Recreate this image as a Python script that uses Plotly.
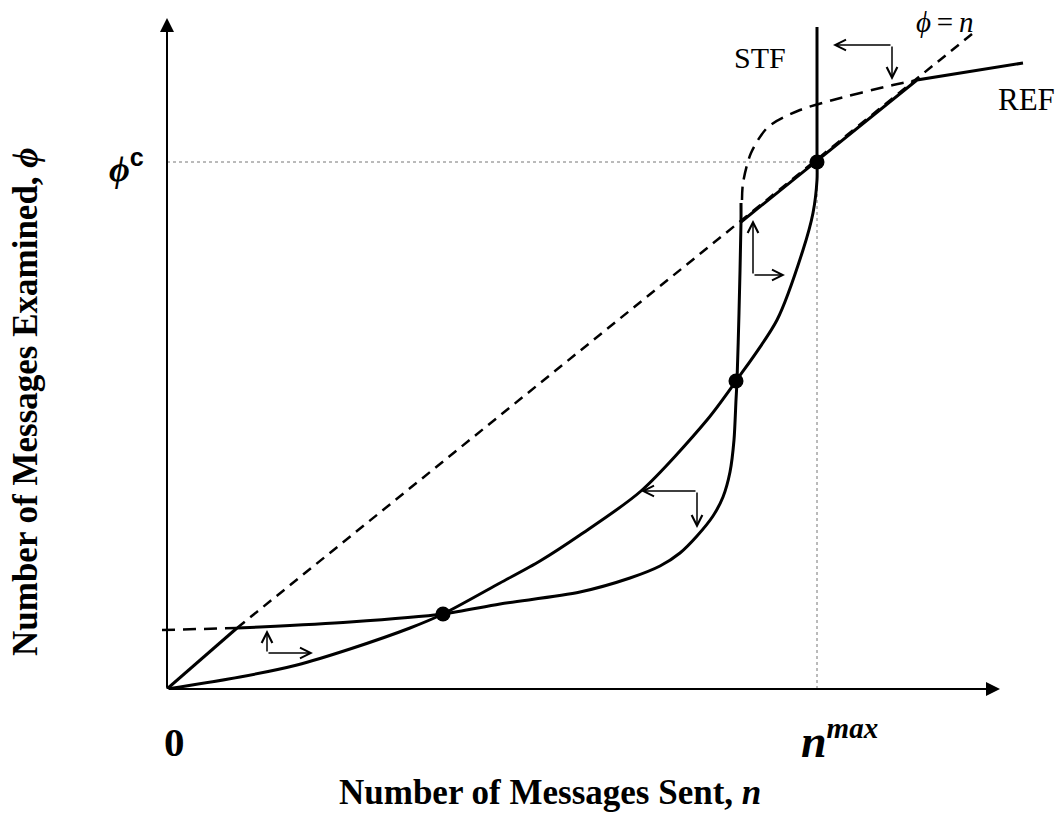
import plotly.graph_objects as go

# ---- data (schematic units: 1 unit ~ 1 px) ----
# STF convex curve (ends at n^max, phi^c, then vertical)
stf_x = [0, 73, 130, 183, 243, 276, 333, 373, 413, 474, 540, 569, 610, 636, 646, 650, 650]
stf_y = [0, 12, 24, 40, 61, 75, 106, 128, 154, 198, 269, 308, 369, 439, 476, 509, 527]
stf_vert_x = [650, 650]
stf_vert_y = [527, 662]

# sigmoid curve (solid part)
sig_x = [70, 93, 183, 276, 333, 413, 463, 493, 513, 530, 546, 556, 563, 567, 569, 570, 572, 574, 574]
sig_y = [61, 62, 67, 75, 85, 97, 111, 123, 136, 153, 173, 192, 217, 249, 289, 308, 376, 467, 486]
# sigmoid dashed parts
sig_lead_x = [-5, 70]
sig_lead_y = [59, 61]
sig_top_x = [575, 576, 584, 601, 633, 666, 726, 750]
sig_top_y = [489, 506, 536, 562, 579, 589, 604, 609]

# REF piecewise-linear
ref_low_x = [0, 70]
ref_low_y = [0, 61]
ref_high_x = [574, 750, 856]
ref_high_y = [467, 609, 626]

# phi = n dashed diagonal
diag_x = [70, 810]
diag_y = [61, 659]

# equilibrium points
dot_x = [276, 569, 650]
dot_y = [75, 308, 527]

n_max = 650
phi_c = 527

# L-shaped direction arrows: corner, tip1, tip2
arrows = [
    ((100, 36), (100, 59), (146, 36)),
    ((586, 414), (586, 469), (618, 414)),
    ((530, 198), (474, 198), (530, 161)),
    ((725, 644), (666, 644), (725, 609)),
]

FONT = "Liberation Serif, Times New Roman, serif"
fig = go.Figure()

def line(x, y, width=3, dash=None, color="black", shape="linear"):
    fig.add_trace(go.Scatter(x=x, y=y, mode="lines",
                             line=dict(color=color, width=width, dash=dash, shape=shape, smoothing=0.8),
                             hoverinfo="skip", showlegend=False))

# reference dotted lines
line([0, n_max], [phi_c, phi_c], width=1, dash="dot", color="#777")
line([n_max, n_max], [0, phi_c], width=1, dash="dot", color="#777")

# dashed lines
line(diag_x, diag_y, width=2.5, dash="10px,7px")
line(sig_lead_x, sig_lead_y, width=2.5, dash="13px,8px")
line(sig_top_x, sig_top_y, width=2.5, dash="13px,8px", shape="spline")

# solid curves
line(stf_x, stf_y, width=3, shape="spline")
line(stf_vert_x, stf_vert_y, width=3)
line(sig_x, sig_y, width=3, shape="spline")
line(ref_low_x, ref_low_y, width=3)
line(ref_high_x, ref_high_y, width=3)

# points
fig.add_trace(go.Scatter(x=dot_x, y=dot_y, mode="markers",
                         marker=dict(color="black", size=15),
                         hoverinfo="skip", showlegend=False))

anns = []
# axes with arrows
anns.append(dict(x=0, y=671, ax=0, ay=0, xref="x", yref="y", axref="x", ayref="y",
                 showarrow=True, arrowhead=2, arrowsize=1.4, arrowwidth=2, arrowcolor="black", text=""))
anns.append(dict(x=833, y=0, ax=0, ay=0, xref="x", yref="y", axref="x", ayref="y",
                 showarrow=True, arrowhead=2, arrowsize=1.4, arrowwidth=2, arrowcolor="black", text=""))

for corner, t1, t2 in arrows:
    for tip in (t1, t2):
        anns.append(dict(x=tip[0], y=tip[1], ax=corner[0], ay=corner[1],
                         xref="x", yref="y", axref="x", ayref="y",
                         showarrow=True, arrowhead=5, arrowsize=1.4, arrowwidth=1.5,
                         arrowcolor="black", text=""))

def text(x, y, s, size, xshift=0, yshift=0, xref="x", yref="y", angle=0):
    anns.append(dict(x=x, y=y, xref=xref, yref=yref, text=s, showarrow=False,
                     xshift=xshift, yshift=yshift, textangle=angle,
                     font=dict(family=FONT, size=size, color="black"),
                     xanchor="center", yanchor="middle"))

text(593, 632, "STF", 30)
text(859, 590, "REF", 31)
text(777, 667, "<i>ϕ</i>\u2009=\u2009<i>n</i>", 29)
text(0, phi_c, "<b><i>ϕ</i></b><sup><span style='font-family:Liberation Sans'><b>c</b></span></sup>",
     36, xshift=-41, yshift=-4)
text(0, 0, "<b>0</b>", 41, xshift=7, yshift=-53)
text(n_max, 0, "<b><i>n</i></b><sup><span style='font-size:29px'><b><i>max</i></b></span></sup>",
     46, xshift=22, yshift=-50)
text(0.4338, -0.152, "<b>Number of Messages Sent, <i>n</i></b>", 35, xref="paper", yref="paper")
text(-0.1457, 0.4235, "<b>Number of Messages Examined, <i>ϕ</i></b>", 35,
     xref="paper", yref="paper", angle=-90)

fig.update_layout(
    width=1063, height=818,
    margin=dict(l=157, r=0, t=9, b=129),
    paper_bgcolor="white", plot_bgcolor="white",
    xaxis=dict(range=[-10, 896], visible=False, fixedrange=True),
    yaxis=dict(range=[0, 680], visible=False, fixedrange=True),
    annotations=anns,
    showlegend=False,
)

fig.write_html(
    "out.html",
    config={"displayModeBar": False},
    post_script="document.body.style.margin='0';document.body.style.overflow='hidden';",
)
